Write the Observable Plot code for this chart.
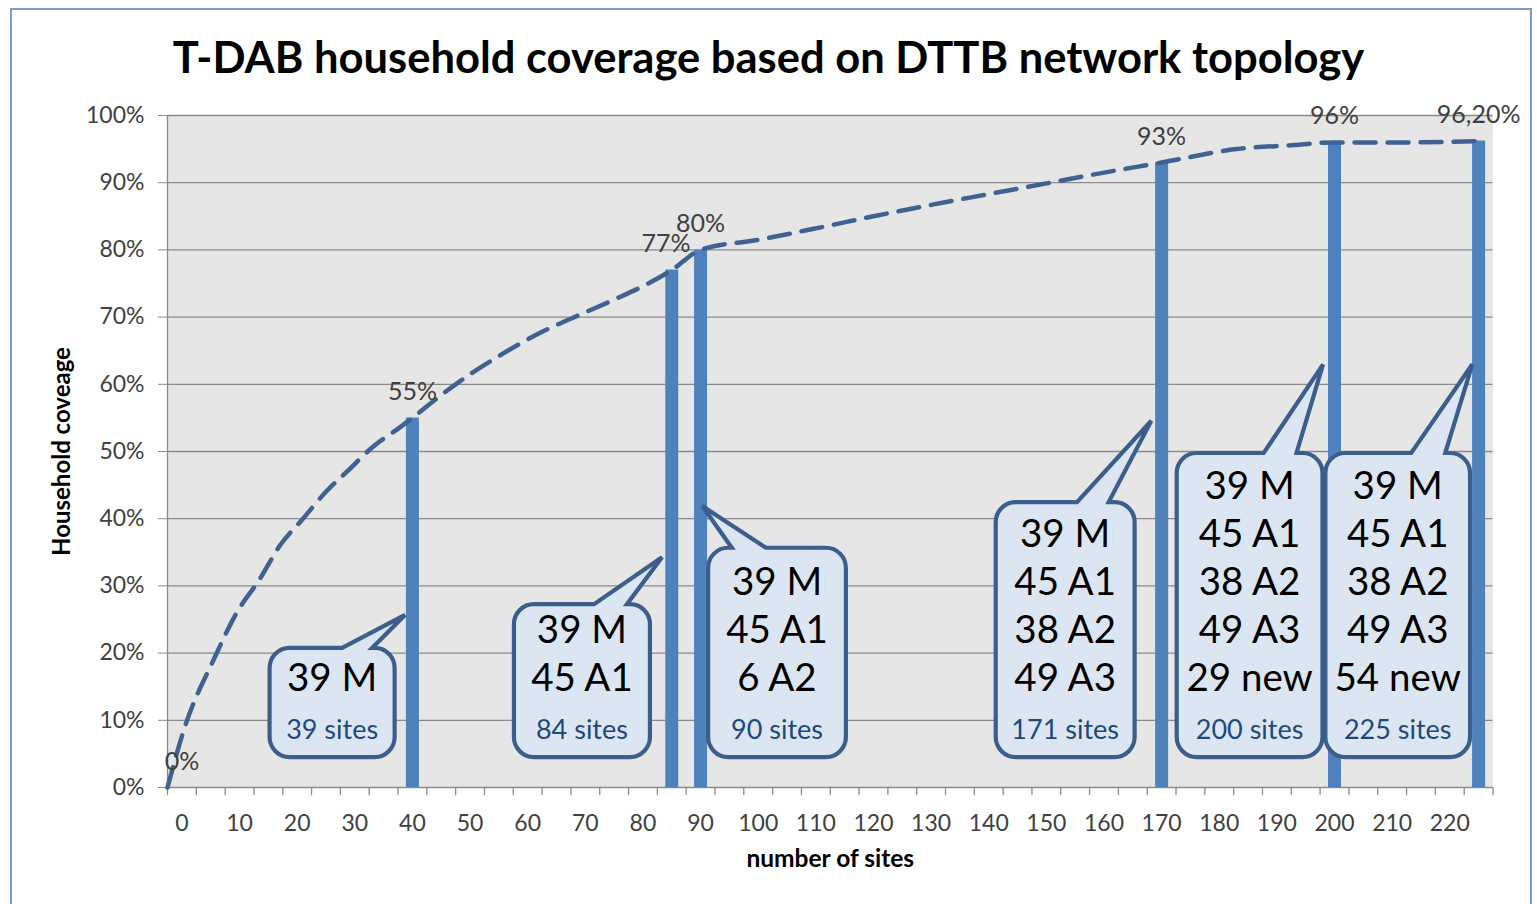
<!DOCTYPE html>
<html><head><meta charset="utf-8">
<script src="https://cdn.jsdelivr.net/npm/d3@7"></script>
<script src="https://cdn.jsdelivr.net/npm/@observablehq/plot@0.6"></script>
<style>
body{margin:0;background:#fff;font-family:Lato,sans-serif;}
#page{position:relative;width:1537px;height:904px;overflow:hidden;background:#fff;}
#border{position:absolute;left:10px;top:8px;width:1522px;height:920px;border:2px solid #7b9bc9;box-sizing:border-box;}
#title{position:absolute;left:0;width:1537px;top:36px;line-height:40px;text-align:center;font-weight:bold;font-size:43.5px;font-family:Lato,sans-serif;color:#000;white-space:nowrap;}
#chart{position:absolute;left:0;top:95px;}
#chart g[aria-label="y-axis"] line, #chart g[aria-label="y-axis tick"]{stroke:#8a8a8a;}
</style></head>
<body><div id="page"><div id="border"></div><div id="title">T-DAB household coverage based on DTTB network topology</div><div id="chart"></div></div>
<script>
// ---- data ----
const barSites = [40, 85, 90, 170, 200, 225];
const barCoverage = [55, 77, 80, 93, 96, 96.2];
const labelSites = [0, 40, 84, 90, 170, 200, 225];
const labelCoverage = [0, 55, 77, 80, 93, 96, 96.2];
const labelText = ["0%", "55%", "77%", "80%", "93%", "96%", "96,20%"];
const curveSites = [-2.5, 0.5, 5.5, 9.5, 13.5, 17, 21, 25, 29, 33, 38, 40, 45, 50, 55, 62, 70, 75, 80, 85, 90, 100, 110, 120, 130, 140, 150, 160, 170, 183, 193, 200, 213, 225];
const curveCoverage = [0, 9, 19, 26, 31, 36, 40, 44, 47.3, 50.6, 53.7, 55, 58.4, 61.5, 64.2, 67.6, 70.7, 72.6, 74.6, 77, 80, 81.5, 83.2, 85, 86.7, 88.3, 89.9, 91.5, 93, 95, 95.6, 96, 96, 96.2];
const xTickLabels = [0, 10, 20, 30, 40, 50, 60, 70, 80, 90, 100, 110, 120, 130, 140, 150, 160, 170, 180, 190, 200, 210, 220];
const yTicks = [0, 10, 20, 30, 40, 50, 60, 70, 80, 90, 100];
const calloutLines = [
  ["39 M"],
  ["39 M", "45 A1"],
  ["39 M", "45 A1", "6 A2"],
  ["39 M", "45 A1", "38 A2", "49 A3"],
  ["39 M", "45 A1", "38 A2", "49 A3", "29 new"],
  ["39 M", "45 A1", "38 A2", "49 A3", "54 new"]
];
const calloutSites = ["39 sites", "84 sites", "90 sites", "171 sites", "200 sites", "225 sites"];

// ---- annotation layout (data units: sites, %) ----
const calloutLayout = [
  {x1: 15.3, x2: 37.0, top: 20.7, base: [27.9, 33.1], tip: [38.8, 25.6]},
  {x1: 57.7, x2: 81.3, top: 27.2, base: [71.6, 77.3], tip: [83.4, 34.2]},
  {x1: 91.4, x2: 115.3, top: 35.6, base: [95.5, 101.4], tip: [90.4, 41.8]},
  {x1: 141.3, x2: 165.4, top: 42.4, base: [155.4, 160.9], tip: [168.3, 54.5]},
  {x1: 172.7, x2: 198.0, top: 49.7, base: [187.8, 193.5], tip: [198.1, 62.9]},
  {x1: 198.5, x2: 223.6, top: 49.7, base: [213.4, 219.3], tip: [224.0, 62.9]}
];
const calloutBottom = 4.46;

const xTickMarks = d3.range(-2.5, 228, 5);
const bars = barSites.map((s, i) => ({s, v: barCoverage[i]}));
const labels = labelSites.map((s, i) => ({s, v: labelCoverage[i], t: labelText[i]}));
const curve = curveSites.map((s, i) => ({s, v: curveCoverage[i]}));

function calloutMark(index, scales) {
  const sx = scales.x, sy = scales.y;
  const g = d3.create("svg:g").attr("aria-label", "callouts");
  calloutLayout.forEach((c, i) => {
    const L = sx(c.x1), R = sx(c.x2), T = sy(c.top), B = sy(calloutBottom);
    const b1 = sx(c.base[0]), b2 = sx(c.base[1]);
    const tx = sx(c.tip[0]), ty = sy(c.tip[1]);
    const r = 20;
    const p = `M${L + r},${T}L${b1},${T}L${tx},${ty}L${b2},${T}L${R - r},${T}A${r},${r} 0 0 1 ${R},${T + r}L${R},${B - r}A${r},${r} 0 0 1 ${R - r},${B}L${L + r},${B}A${r},${r} 0 0 1 ${L},${B - r}L${L},${T + r}A${r},${r} 0 0 1 ${L + r},${T}Z`;
    g.append("path").attr("d", p).attr("fill", "#dce6f2").attr("stroke", "#3b5e8c").attr("stroke-width", 4.2).attr("stroke-linejoin", "miter");
    const cx = (L + R) / 2;
    const lines = calloutLines[i];
    lines.forEach((t, j) => {
      const cy = B - 80 - 48 * (lines.length - 1 - j);
      g.append("text").attr("x", cx).attr("y", cy + 13.5).attr("text-anchor", "middle")
        .attr("font-size", 38.5).attr("font-family", "Lato, sans-serif").attr("fill", "#000").text(t);
    });
    g.append("text").attr("x", cx).attr("y", B - 28 + 9.8).attr("text-anchor", "middle")
      .attr("font-size", 27).attr("font-family", "Lato, sans-serif").attr("fill", "#1f497d").text(calloutSites[i]);
  });
  return g.node();
}

const plot = Plot.plot({
  width: 1537,
  height: 809,
  marginLeft: 167,
  marginRight: 44.5,
  marginTop: 20,
  marginBottom: 117,
  style: {fontFamily: "Lato, sans-serif", fontSize: "23px", color: "#404040", background: "transparent", overflow: "visible"},
  x: {domain: [-2.5, 227.5], ticks: xTickLabels, tickSize: 0, tickPadding: 27, label: null},
  y: {domain: [0, 100], ticks: yTicks, tickFormat: d => d + "%", tickSize: 9, tickPadding: 14, label: null},
  marks: [
    Plot.frame({fill: "#e6e6e6", stroke: "none"}),
    Plot.ruleY(yTicks, {stroke: "#8a8a8a", strokeWidth: 1.3}),
    Plot.ruleX([-2.5], {stroke: "#8a8a8a", strokeWidth: 1.3}),
    Plot.ruleX(xTickMarks, {y1: 0, y2: -1.2, stroke: "#8a8a8a", strokeWidth: 1.3}),
    Plot.ruleX(bars, {x: "s", y1: 0, y2: "v", stroke: "#4f81bd", strokeWidth: 13}),
    Plot.line(curve, {x: "s", y: "v", curve: "monotone-x", stroke: "#3f6292", strokeWidth: 4.5, strokeDasharray: "21,12"}),
    calloutMark,
    Plot.text(labels, {x: "s", y: "v", text: "t", dy: -26, fontSize: 25, fill: "#404040"}),
    Plot.text(["Household coveage"], {frameAnchor: "left", textAnchor: "middle", rotate: -90, dx: -105, fontSize: 24, fontWeight: "bold", fill: "#000"}),
    Plot.text(["number of sites"], {frameAnchor: "bottom", lineAnchor: "middle", dy: 72, fontSize: 24.5, fontWeight: "bold", fill: "#000"})
  ]
});
document.getElementById("chart").appendChild(plot);
</script>
</body></html>
